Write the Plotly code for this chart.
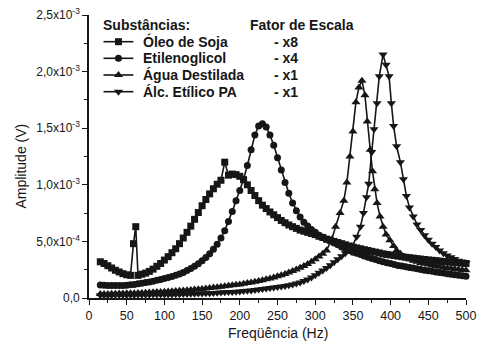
import plotly.graph_objects as go

# Amplitudes in units of 1e-4 V (tick labels express the real scale)
soja_freq = [15, 20, 25, 30, 35, 40, 45, 50, 55, 59,
             62, 65, 70, 75, 80, 85, 90, 95, 100, 105,
             110, 115, 120, 125, 130, 135, 140, 145, 150, 155,
             160, 165, 170, 175, 180, 185, 190, 195, 200, 205,
             210, 215, 220, 225, 230, 235, 240, 245, 250, 255,
             260, 265, 270, 275, 280, 285, 290, 295, 300, 305,
             310, 315, 320, 325, 330, 335, 340, 345, 350, 355,
             360, 365, 370, 375, 380, 385, 390, 395, 400, 405,
             410, 415, 420, 425, 430, 435, 440, 445, 450, 455,
             460, 465, 470, 475, 480, 485, 490, 495, 500]
soja_amp = [3.2, 3.05, 2.85, 2.65, 2.45, 2.3, 2.15, 2.05, 2.0, 4.8,
            6.3, 2.0, 2.1, 2.2, 2.35, 2.55, 2.8, 3.05, 3.35, 3.65,
            4.0, 4.35, 4.8, 5.3, 5.8, 6.35, 6.95, 7.55, 8.15, 8.7,
            9.2, 9.65, 10.05, 10.4, 12.0, 10.85, 10.95, 10.9, 10.75, 10.45,
            10.0, 9.5, 9.05, 8.6, 8.2, 7.9, 7.6, 7.35, 7.1, 6.85,
            6.65, 6.45, 6.3, 6.15, 6.0, 5.9, 5.8, 5.7, 5.6, 5.45,
            5.35, 5.2, 5.1, 5.0, 4.9, 4.8, 4.7, 4.6, 4.5, 4.42,
            4.35, 4.27, 4.2, 4.12, 4.05, 3.98, 3.9, 3.85, 3.8, 3.75,
            3.7, 3.65, 3.6, 3.56, 3.52, 3.48, 3.44, 3.4, 3.36, 3.33,
            3.3, 3.26, 3.23, 3.2, 3.17, 3.14, 3.11, 3.08, 3.05]

etil_freq = [15, 20, 25, 30, 35, 40, 45, 50, 55, 60,
             65, 70, 75, 80, 85, 90, 95, 100, 105, 110,
             115, 120, 125, 130, 135, 140, 145, 150, 155, 160,
             165, 170, 175, 180, 185, 190, 195, 200, 205, 210,
             215, 220, 225, 230, 235, 240, 245, 250, 255, 260,
             265, 270, 275, 280, 285, 290, 295, 300, 305, 310,
             315, 320, 325, 330, 335, 340, 345, 350, 355, 360,
             365, 370, 375, 380, 385, 390, 395, 400, 405, 410,
             415, 420, 425, 430, 435, 440, 445, 450, 455, 460,
             465, 470, 475, 480, 485, 490, 495, 500]
etil_amp = [1.15, 1.13, 1.11, 1.1, 1.1, 1.1, 1.11, 1.13, 1.16, 1.2,
            1.25, 1.3, 1.36, 1.42, 1.49, 1.56, 1.64, 1.72, 1.8, 1.9,
            2.0, 2.12, 2.26, 2.42, 2.6, 2.8, 3.02, 3.28, 3.58, 3.92,
            4.3, 4.75, 5.3, 5.95, 6.75, 7.65, 8.6, 9.5, 10.5, 11.7,
            13.1, 14.4, 15.2, 15.4, 15.1, 14.4, 13.5, 12.4, 11.3, 10.2,
            9.25, 8.4, 7.7, 7.15, 6.7, 6.35, 6.05, 5.8, 5.55, 5.35,
            5.2, 5.05, 4.85, 4.7, 4.5, 4.35, 4.2, 4.05, 3.95, 3.85,
            3.72, 3.6, 3.5, 3.4, 3.3, 3.2, 3.12, 3.04, 2.96, 2.88,
            2.82, 2.76, 2.7, 2.64, 2.58, 2.52, 2.46, 2.41, 2.36, 2.3,
            2.25, 2.2, 2.15, 2.1, 2.05, 2.0, 1.96, 1.92]

agua_freq = [15, 20, 25, 30, 35, 40, 45, 50, 55, 60,
             65, 70, 75, 80, 85, 90, 95, 100, 105, 110,
             115, 120, 125, 130, 135, 140, 145, 150, 155, 160,
             165, 170, 175, 180, 185, 190, 195, 200, 205, 210,
             215, 220, 225, 230, 235, 240, 245, 250, 255, 260,
             265, 270, 275, 280, 285, 290, 295, 300, 305, 310,
             315, 322, 327, 333, 338, 342, 346, 350, 354, 358,
             362, 366, 369, 373, 376, 379, 382, 386, 390, 394,
             399, 404, 408, 413, 417, 420, 425, 430, 435, 440,
             445, 450, 455, 460, 465, 470, 475, 480, 485, 490,
             495, 500]
agua_amp = [0.35, 0.35, 0.36, 0.37, 0.38, 0.39, 0.4, 0.41, 0.42, 0.43,
            0.44, 0.45, 0.47, 0.48, 0.5, 0.52, 0.54, 0.56, 0.58, 0.6,
            0.62, 0.64, 0.66, 0.68, 0.71, 0.74, 0.77, 0.8, 0.84, 0.88,
            0.92, 0.96, 1.0, 1.04, 1.08, 1.12, 1.16, 1.2, 1.26, 1.32,
            1.38, 1.44, 1.5, 1.57, 1.65, 1.73, 1.82, 1.92, 2.02, 2.13,
            2.25, 2.38, 2.52, 2.67, 2.83, 3.0, 3.2, 3.42, 3.66, 3.92,
            4.2, 5.2, 6.3, 7.5, 8.6, 10.2, 12.5, 14.7, 17.3, 18.6,
            19.2, 17.9, 15.6, 13.1, 11.2, 9.6, 8.4, 7.2, 6.3, 5.6,
            5.1, 4.6, 4.2, 3.9, 3.65, 3.55, 3.42, 3.3, 3.2, 3.1,
            3.02, 2.95, 2.88, 2.82, 2.76, 2.7, 2.65, 2.6, 2.56, 2.52,
            2.48, 2.45]

alc_freq = [15, 20, 25, 30, 35, 40, 45, 50, 55, 60,
            65, 70, 75, 80, 85, 90, 95, 100, 105, 110,
            115, 120, 125, 130, 135, 140, 145, 150, 155, 160,
            165, 170, 175, 180, 185, 190, 195, 200, 205, 210,
            215, 220, 225, 230, 235, 240, 245, 250, 255, 260,
            265, 270, 275, 280, 285, 290, 295, 300, 305, 310,
            315, 320, 325, 330, 335, 340, 345, 349, 355, 360,
            364, 368, 371, 375, 378, 382, 385, 390, 394, 398,
            401, 404, 408, 413, 417, 421, 425, 430, 435, 440,
            445, 450, 455, 460, 465, 470, 475, 480, 485, 490,
            495, 500]
alc_amp = [0.25, 0.25, 0.25, 0.25, 0.26, 0.26, 0.26, 0.27, 0.27, 0.27,
           0.28, 0.28, 0.29, 0.29, 0.3, 0.3, 0.31, 0.31, 0.32, 0.32,
           0.33, 0.34, 0.35, 0.36, 0.37, 0.38, 0.39, 0.4, 0.41, 0.42,
           0.44, 0.46, 0.48, 0.5, 0.52, 0.54, 0.56, 0.58, 0.61, 0.64,
           0.67, 0.71, 0.75, 0.79, 0.83, 0.88, 0.92, 0.97, 1.02, 1.07,
           1.13, 1.2, 1.28, 1.38, 1.5, 1.64, 1.82, 2.02, 2.22, 2.43,
           2.65, 2.9, 3.15, 3.42, 3.68, 3.95, 4.25, 4.55, 5.4, 6.3,
           7.5, 8.9, 10.1, 12.9, 14.9, 17.2, 19.6, 21.5, 20.6, 19.6,
           17.2, 15.2, 13.4, 12.0, 10.5, 9.0, 8.0, 7.2, 6.5, 6.0,
           5.55, 5.15, 4.8, 4.5, 4.2, 3.95, 3.75, 3.6, 3.45, 3.3,
           3.2, 3.1]

series_names = ["Óleo de Soja", "Etilenoglicol", "Água Destilada", "Álc. Etílico PA"]
scale_factors = ["- x8", "- x4", "- x1", "- x1"]
x_tick_vals = [0, 50, 100, 150, 200, 250, 300, 350, 400, 450, 500]
y_tick_vals = [0, 5, 10, 15, 20, 25]
y_tick_text = ["0,0", "5,0x10<sup>-4</sup>", "1,0x10<sup>-3</sup>",
               "1,5x10<sup>-3</sup>", "2,0x10<sup>-3</sup>", "2,5x10<sup>-3</sup>"]

assert len(soja_freq) == len(soja_amp)
assert len(etil_freq) == len(etil_amp)
assert len(agua_freq) == len(agua_amp)
assert len(alc_freq) == len(alc_amp)

INK = "#161616"
FONT = "Liberation Sans, Arial, sans-serif"
symbols = ["square", "circle", "triangle-up", "triangle-down"]
sizes = [7, 7, 8, 8]
data = [(soja_freq, soja_amp), (etil_freq, etil_amp), (agua_freq, agua_amp), (alc_freq, alc_amp)]

fig = go.Figure()
for (fx, fy), sym, sz, nm in zip(data, symbols, sizes, series_names):
    fig.add_trace(go.Scatter(
        x=fx, y=fy, mode="lines+markers", name=nm, showlegend=False,
        line=dict(color=INK, width=1.6),
        marker=dict(symbol=sym, size=sz, color=INK, line=dict(width=0)),
        cliponaxis=False,
    ))

# Target plot-area box in page pixels (page body margin removed by post_script)
W0, W1 = 88.5, 466.0
H0, H1 = 15.0, 298.0
FIG_W, FIG_H = 477, 342

def px(xp):
    return (xp - W0) / (W1 - W0)
def py(yp):
    return (H1 - yp) / (H1 - H0)

row_y = [41.7, 58.3, 75.0, 91.7]
for i, (sym, sz) in enumerate(zip(symbols, sizes)):
    fig.add_trace(go.Scatter(
        x=[px(103), px(133)], y=[py(row_y[i]), py(row_y[i])], mode="lines",
        line=dict(color=INK, width=1.6), xaxis="x2", yaxis="y2",
        showlegend=False, hoverinfo="skip", cliponaxis=False))
    fig.add_trace(go.Scatter(
        x=[px(118)], y=[py(row_y[i])], mode="markers",
        marker=dict(symbol=sym, size=sz, color=INK), xaxis="x2", yaxis="y2",
        showlegend=False, hoverinfo="skip", cliponaxis=False))

ann = []
lfont = dict(family=FONT, size=14, color=INK)
ann.append(dict(x=px(101), y=py(25), xref="paper", yref="paper", text="<b>Substâncias:</b>",
                showarrow=False, xanchor="left", yanchor="middle", font=lfont))
ann.append(dict(x=px(248), y=py(25), xref="paper", yref="paper", text="<b>Fator de Escala</b>",
                showarrow=False, xanchor="left", yanchor="middle", font=lfont))
for i in range(4):
    ann.append(dict(x=px(141), y=py(row_y[i]), xref="paper", yref="paper",
                    text="<b>%s</b>" % series_names[i], showarrow=False,
                    xanchor="left", yanchor="middle", font=lfont))
    ann.append(dict(x=px(272), y=py(row_y[i]), xref="paper", yref="paper",
                    text="<b>%s</b>" % scale_factors[i], showarrow=False,
                    xanchor="left", yanchor="middle", font=lfont))
ann.append(dict(x=px(20), y=py(166), xref="paper", yref="paper", text="Amplitude (V)",
                textangle=-90, showarrow=False, xanchor="center", yanchor="middle",
                font=dict(family=FONT, size=14, color=INK)))
ann.append(dict(x=px(278), y=py(333), xref="paper", yref="paper", text="Freqüência (Hz)",
                showarrow=False, xanchor="center", yanchor="middle",
                font=dict(family=FONT, size=14, color=INK)))

fig.update_layout(
    width=FIG_W, height=FIG_H,
    margin=dict(l=W0, r=FIG_W - W1, t=H0, b=FIG_H - H1, autoexpand=False),
    paper_bgcolor="white", plot_bgcolor="white",
    font=dict(family=FONT, size=12, color=INK),
    showlegend=False,
    annotations=ann,
    xaxis=dict(range=[0, 500], tickvals=x_tick_vals, ticklabeloverflow="allow",
               showline=True, linecolor=INK, linewidth=1.6, ticks="outside", ticklen=5,
               tickwidth=1.4, tickcolor=INK, showgrid=False, zeroline=False, automargin=False,
               minor=dict(ticks="outside", ticklen=3, tickwidth=1.2, tickcolor=INK, dtick=25, tick0=0),
               tickfont=dict(size=12.5)),
    yaxis=dict(range=[0, 25], tickvals=y_tick_vals, ticktext=y_tick_text, ticklabeloverflow="allow",
               showline=True, linecolor=INK, linewidth=1.6, ticks="outside", ticklen=5,
               tickwidth=1.4, tickcolor=INK, showgrid=False, zeroline=False, automargin=False,
               minor=dict(ticks="outside", ticklen=3, tickwidth=1.2, tickcolor=INK, dtick=2.5, tick0=0),
               tickfont=dict(size=12)),
    xaxis2=dict(overlaying="x", range=[0, 1], visible=False, fixedrange=True, automargin=False),
    yaxis2=dict(overlaying="y", range=[0, 1], visible=False, fixedrange=True, automargin=False),
)

fig.write_html(
    "out.html",
    config={"displayModeBar": False},
    post_script="document.body.style.margin='0px';document.body.style.overflow='hidden';",
)
